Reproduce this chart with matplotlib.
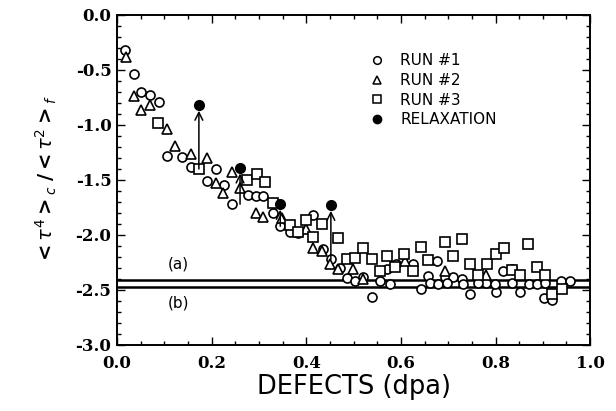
import matplotlib
matplotlib.use("Agg")
import matplotlib.pyplot as plt
from matplotlib.ticker import MultipleLocator, FormatStrFormatter
from matplotlib.lines import Line2D

plt.rcParams['axes.unicode_minus'] = False

run1_x = [0.016, 0.035, 0.051, 0.069, 0.088, 0.106, 0.137, 0.156, 0.19, 0.209, 0.226, 0.242,
          0.277, 0.294, 0.309, 0.329, 0.345, 0.366, 0.383, 0.415, 0.435, 0.452, 0.471, 0.486,
          0.503, 0.52, 0.538, 0.556, 0.57, 0.59, 0.626, 0.642, 0.658, 0.676, 0.693, 0.71,
          0.73, 0.746, 0.78, 0.80, 0.816, 0.834, 0.852, 0.87, 0.903, 0.92, 0.939, 0.958,
          0.577, 0.662, 0.679, 0.697, 0.732, 0.763, 0.799, 0.835, 0.888, 0.905]
run1_y = [-0.32, -0.54, -0.70, -0.73, -0.79, -1.28, -1.29, -1.38, -1.51, -1.40, -1.55, -1.72,
          -1.64, -1.65, -1.65, -1.80, -1.92, -1.97, -1.98, -1.82, -2.13, -2.22, -2.30, -2.39,
          -2.42, -2.38, -2.56, -2.42, -2.31, -2.26, -2.26, -2.49, -2.37, -2.24, -2.38, -2.38,
          -2.40, -2.54, -2.44, -2.52, -2.33, -2.31, -2.52, -2.45, -2.57, -2.59, -2.42, -2.42,
          -2.45, -2.44, -2.45, -2.44, -2.45, -2.44, -2.45, -2.44, -2.45, -2.44]

run2_x = [0.018, 0.035, 0.051, 0.070, 0.106, 0.123, 0.156, 0.19, 0.209, 0.224, 0.242, 0.26,
          0.294, 0.309, 0.348, 0.40, 0.415, 0.433, 0.45, 0.467, 0.499, 0.52, 0.609, 0.693, 0.78]
run2_y = [-0.38, -0.74, -0.86, -0.82, -1.04, -1.19, -1.26, -1.30, -1.53, -1.62, -1.43, -1.57,
          -1.80, -1.84, -1.85, -1.95, -2.12, -2.15, -2.26, -2.31, -2.31, -2.40, -2.24, -2.33, -2.36]

run3_x = [0.087, 0.174, 0.274, 0.295, 0.313, 0.329, 0.366, 0.383, 0.40, 0.415, 0.433, 0.467,
          0.486, 0.503, 0.519, 0.538, 0.556, 0.57, 0.588, 0.607, 0.625, 0.642, 0.658, 0.693,
          0.711, 0.73, 0.746, 0.763, 0.781, 0.80, 0.818, 0.834, 0.852, 0.869, 0.887, 0.905,
          0.92, 0.94]
run3_y = [-0.98, -1.40, -1.50, -1.45, -1.52, -1.71, -1.91, -1.97, -1.86, -2.02, -1.90, -2.03,
          -2.22, -2.21, -2.12, -2.22, -2.33, -2.19, -2.29, -2.17, -2.33, -2.11, -2.23, -2.06,
          -2.19, -2.04, -2.26, -2.36, -2.26, -2.17, -2.12, -2.32, -2.36, -2.08, -2.29, -2.36,
          -2.54, -2.49]

relax_x = [0.173, 0.26, 0.345, 0.452]
relax_y = [-0.82, -1.39, -1.72, -1.73]
relax_from_y = [-1.40, -1.72, -1.92, -2.22]

line_a = -2.41
line_b = -2.47

fig = plt.figure(figsize=(6.16, 4.11), dpi=100)
ax = fig.add_axes([0.19, 0.1606, 0.768, 0.803])

ms = 6.5
mew = 1.2
ax.axhline(line_a, color='black', lw=1.8, zorder=1)
ax.axhline(line_b, color='black', lw=1.8, zorder=1)

ax.plot(run1_x, run1_y, 'o', mfc='white', mec='black', ms=ms, mew=mew, zorder=3)
ax.plot(run2_x, run2_y, '^', mfc='white', mec='black', ms=ms, mew=mew, zorder=3)
ax.plot(run3_x, run3_y, 's', mfc='white', mec='black', ms=ms, mew=mew, zorder=3)
for x, y0, y1 in zip(relax_x, relax_from_y, relax_y):
    ax.annotate('', xy=(x, y1), xytext=(x, y0),
                arrowprops=dict(arrowstyle='->', color='black', lw=1.1,
                                shrinkA=0, shrinkB=4, mutation_scale=14),
                zorder=4)
ax.plot(relax_x, relax_y, 'o', mfc='black', mec='black', ms=7, zorder=5)

ax.set_xlim(0, 1.0)
ax.set_ylim(-3.0, 0.0)
ax.xaxis.set_major_locator(MultipleLocator(0.2))
ax.xaxis.set_minor_locator(MultipleLocator(0.05))
ax.yaxis.set_major_locator(MultipleLocator(0.5))
ax.yaxis.set_minor_locator(MultipleLocator(0.1))
ax.xaxis.set_major_formatter(FormatStrFormatter('%.1f'))
ax.yaxis.set_major_formatter(FormatStrFormatter('%.1f'))
ax.tick_params(which='both', direction='in', top=True, right=True, width=1.0)
ax.tick_params(which='major', length=6)
ax.tick_params(which='minor', length=3)
ax.tick_params(axis='x', pad=7)
ax.tick_params(axis='y', pad=4)
for lab in ax.get_xticklabels() + ax.get_yticklabels():
    lab.set_fontfamily('DejaVu Serif')
    lab.set_fontweight('bold')
    lab.set_fontsize(12)
for s in ax.spines.values():
    s.set_linewidth(1.4)

ax.set_xlabel('DEFECTS (dpa)', fontsize=18.5, family='DejaVu Sans', labelpad=2)
ax.set_ylabel(r'$\mathbf{<}\tau^{4}\mathbf{>}_{c}\;\mathbf{/}\mathbf{<}\tau^{2}\mathbf{>}_{f}$',
              fontsize=14, labelpad=12)

ax.text(0.13, -2.26, '(a)', fontsize=11, family='DejaVu Sans', ha='center', va='center')
ax.text(0.13, -2.62, '(b)', fontsize=11, family='DejaVu Sans', ha='center', va='center')

handles = [
    Line2D([], [], ls='none', marker='o', mfc='white', mec='black', ms=5.5, mew=1.1),
    Line2D([], [], ls='none', marker='^', mfc='white', mec='black', ms=5.5, mew=1.1),
    Line2D([], [], ls='none', marker='s', mfc='white', mec='black', ms=5.5, mew=1.1),
    Line2D([], [], ls='none', marker='o', mfc='black', mec='black', ms=6),
]
labels = ['RUN #1', 'RUN #2', 'RUN #3', 'RELAXATION']
leg = ax.legend(handles, labels, loc='upper left', bbox_to_anchor=(0.505, 0.925),
                frameon=False, labelspacing=0.3, handlelength=1.0, handletextpad=1.0,
                prop={'family': 'DejaVu Sans', 'size': 11})

fig.savefig('out.png', dpi=100)
